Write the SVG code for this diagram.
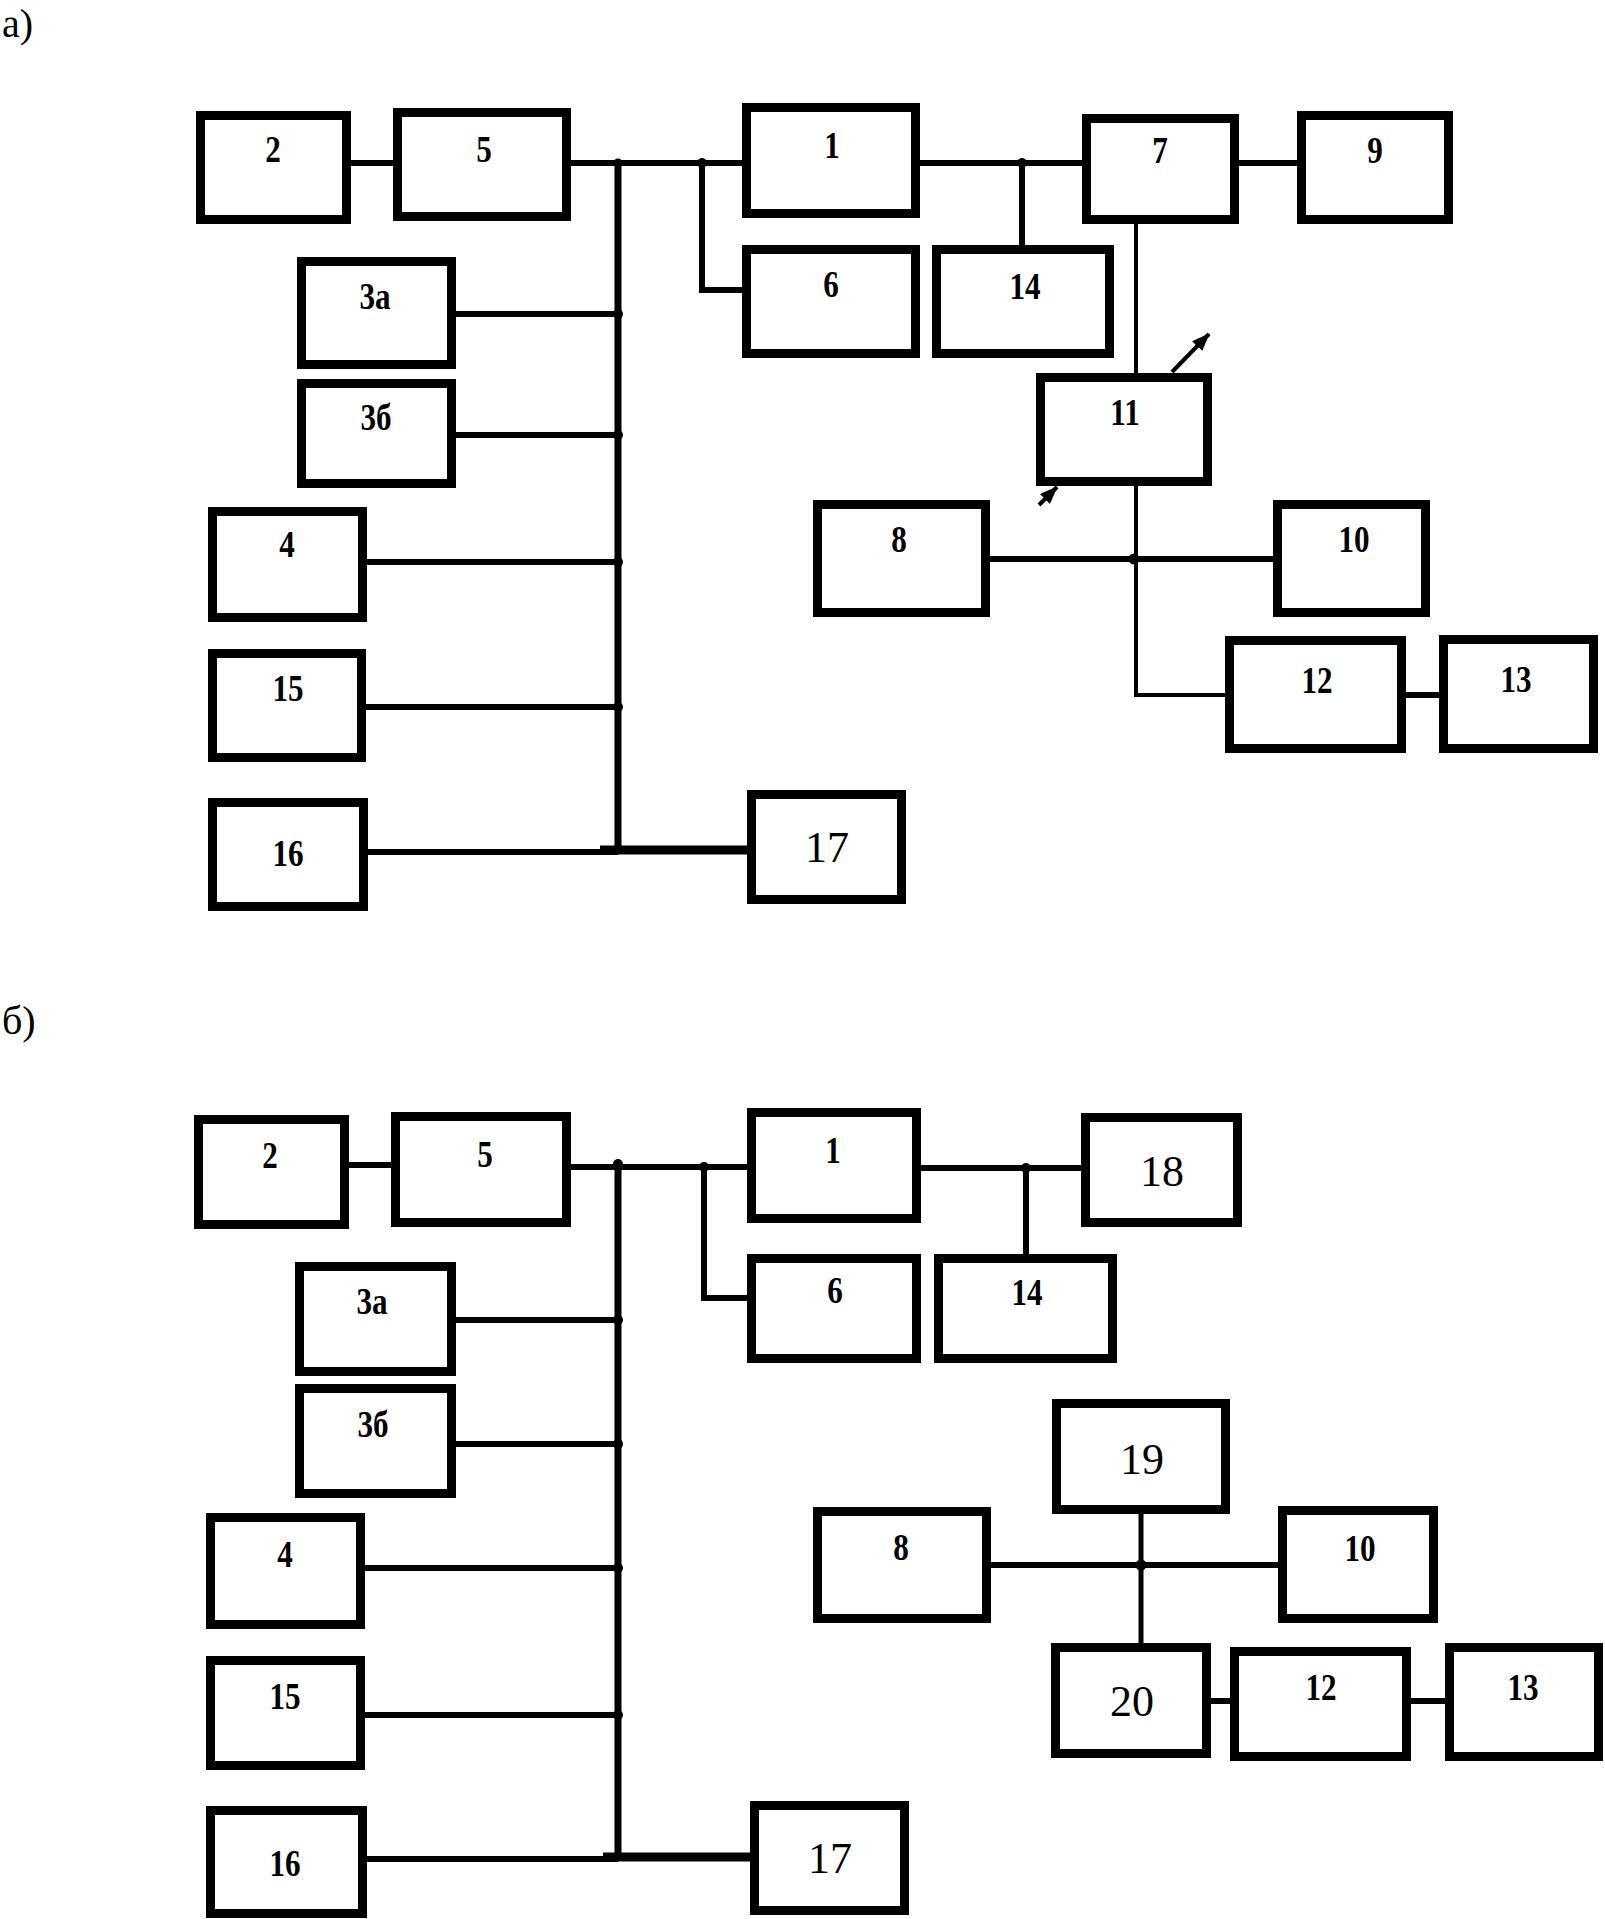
<svg xmlns="http://www.w3.org/2000/svg" width="1605" height="1919" viewBox="0 0 1605 1919">
<style>
.box{fill:#fff;stroke:#000;stroke-width:9}
.ln{fill:none;stroke:#000;stroke-width:6}
.thin{fill:none;stroke:#000;stroke-width:4}
.thick{fill:none;stroke:#000;stroke-width:9}
.dot{fill:#000}
.lb{font-family:"Liberation Serif","Times New Roman",serif;font-weight:bold;font-size:38px;text-anchor:middle}
.lr{font-family:"Liberation Serif","Times New Roman",serif;font-size:44px;text-anchor:middle}
.cap{font-family:"Liberation Serif","Times New Roman",serif;font-size:40px}
</style>
<defs>
<marker id="ah" markerUnits="userSpaceOnUse" markerWidth="18" markerHeight="14" refX="17" refY="7" orient="auto">
<path d="M0,0 L18,7 L0,14 z" fill="#000"/>
</marker>
</defs>
<rect width="1605" height="1919" fill="#fff"/>
<text class="cap" x="2" y="37">а)</text>
<text class="cap" x="2" y="1034">б)</text>

<g id="connectors">
<path class="ln" d="M351,163 H393"/>
<path class="ln" d="M571,163 H742"/>
<path class="ln" d="M618,163 V852" style="stroke-width:7"/>
<path class="ln" d="M702,163 V290 H742"/>
<path class="ln" d="M456,314 H618"/>
<path class="ln" d="M456,435 H618"/>
<path class="ln" d="M367,562 H618"/>
<path class="ln" d="M366,707 H618"/>
<path class="ln" d="M368,852 H618"/>
<path class="thick" d="M600,850 H747"/>
<path class="ln" d="M920,163 H1082"/>
<path class="ln" d="M1022,163 V245"/>
<path class="ln" d="M1239,163 H1297"/>
<path class="thin" d="M1136,224 V373"/>
<path class="thin" d="M1136,486 V695 H1225"/>
<path class="ln" d="M990,559 H1273"/>
<path class="ln" d="M1406,695 H1439"/>
<path class="thin" d="M1172,372 L1209,334" marker-end="url(#ah)"/>
<path class="thin" d="M1039,505 L1057,487" marker-end="url(#ah)"/>
<circle class="dot" cx="618" cy="163" r="4.5"/>
<circle class="dot" cx="702" cy="163" r="5"/>
<circle class="dot" cx="618" cy="314" r="5"/>
<circle class="dot" cx="618" cy="435" r="5"/>
<circle class="dot" cx="618" cy="562" r="5"/>
<circle class="dot" cx="618" cy="707" r="5"/>
<circle class="dot" cx="1022" cy="163" r="5"/>
<circle class="dot" cx="1134" cy="559" r="5.5"/>
<path class="ln" d="M349,1165 H391"/>
<path class="ln" d="M571,1167 H747"/>
<path class="ln" d="M618,1163 V1859" style="stroke-width:7"/>
<path class="ln" d="M704,1167 V1298 H747"/>
<path class="ln" d="M456,1320 H618"/>
<path class="ln" d="M456,1444 H618"/>
<path class="ln" d="M365,1568 H618"/>
<path class="ln" d="M365,1715 H618"/>
<path class="ln" d="M367,1859 H618"/>
<path class="thick" d="M603,1857 H750"/>
<path class="ln" d="M921,1168 H1081"/>
<path class="ln" d="M1026,1168 V1254"/>
<path class="ln" d="M1141,1514 V1643" style="stroke-width:5"/>
<path class="ln" d="M991,1565 H1278"/>
<path class="ln" d="M1211,1701 H1230"/>
<path class="ln" d="M1411,1701 H1445"/>
<circle class="dot" cx="618" cy="1164" r="5"/>
<circle class="dot" cx="704" cy="1167" r="5"/>
<circle class="dot" cx="618" cy="1320" r="5"/>
<circle class="dot" cx="618" cy="1444" r="5"/>
<circle class="dot" cx="618" cy="1568" r="5"/>
<circle class="dot" cx="618" cy="1715" r="5"/>
<circle class="dot" cx="1026" cy="1168" r="5"/>
<circle class="dot" cx="1141" cy="1565" r="5.5"/>
</g>

<g id="a2"><rect class="box" x="200.5" y="115.5" width="146" height="104"/><text class="lb" transform="translate(273,162) scale(0.82,1)">2</text></g>
<g id="a5"><rect class="box" x="397.5" y="112.5" width="169" height="104"/><text class="lb" transform="translate(484,162) scale(0.82,1)">5</text></g>
<g id="a1"><rect class="box" x="746.5" y="107.5" width="169" height="106"/><text class="lb" transform="translate(832,158) scale(0.82,1)">1</text></g>
<g id="a7"><rect class="box" x="1086.5" y="118.5" width="148" height="101"/><text class="lb" transform="translate(1160,163) scale(0.82,1)">7</text></g>
<g id="a9"><rect class="box" x="1301.5" y="115.5" width="147" height="104"/><text class="lb" transform="translate(1375,163) scale(0.82,1)">9</text></g>
<g id="a3a"><rect class="box" x="301.5" y="261.5" width="150" height="103"/><text class="lb" transform="translate(375,309) scale(0.82,1)">3а</text></g>
<g id="a3b"><rect class="box" x="301.5" y="383.5" width="150" height="100"/><text class="lb" transform="translate(376,430) scale(0.82,1)">3б</text></g>
<g id="a6"><rect class="box" x="746.5" y="249.5" width="169" height="104"/><text class="lb" transform="translate(831,297) scale(0.82,1)">6</text></g>
<g id="a14"><rect class="box" x="936.5" y="249.5" width="173" height="104"/><text class="lb" transform="translate(1025,299) scale(0.82,1)">14</text></g>
<g id="a11"><rect class="box" x="1040.5" y="377.5" width="167" height="104"/><text class="lb" transform="translate(1125,425) scale(0.82,1)">11</text></g>
<g id="a8"><rect class="box" x="817.5" y="504.5" width="168" height="108"/><text class="lb" transform="translate(899,552) scale(0.82,1)">8</text></g>
<g id="a10"><rect class="box" x="1277.5" y="504.5" width="148" height="108"/><text class="lb" transform="translate(1354,552) scale(0.82,1)">10</text></g>
<g id="a12"><rect class="box" x="1229.5" y="640.5" width="172" height="108"/><text class="lb" transform="translate(1317,693) scale(0.82,1)">12</text></g>
<g id="a13"><rect class="box" x="1443.5" y="639.5" width="150" height="109"/><text class="lb" transform="translate(1516,692) scale(0.82,1)">13</text></g>
<g id="a4"><rect class="box" x="212.5" y="511.5" width="150" height="106"/><text class="lb" transform="translate(287,557) scale(0.82,1)">4</text></g>
<g id="a15"><rect class="box" x="212.5" y="653.5" width="149" height="104"/><text class="lb" transform="translate(288,701) scale(0.82,1)">15</text></g>
<g id="a16"><rect class="box" x="212.5" y="802.5" width="151" height="104"/><text class="lb" transform="translate(288,866) scale(0.82,1)">16</text></g>
<g id="a17"><rect class="box" x="751.5" y="794.5" width="150" height="105"/><text class="lr" x="827" y="862">17</text></g>

<g id="b2"><rect class="box" x="198.5" y="1119.5" width="146" height="105"/><text class="lb" transform="translate(270,1168) scale(0.82,1)">2</text></g>
<g id="b5"><rect class="box" x="395.5" y="1116.5" width="171" height="106"/><text class="lb" transform="translate(485,1167) scale(0.82,1)">5</text></g>
<g id="b1"><rect class="box" x="751.5" y="1112.5" width="165" height="106"/><text class="lb" transform="translate(833,1163) scale(0.82,1)">1</text></g>
<g id="b18"><rect class="box" x="1085.5" y="1117.5" width="152" height="105"/><text class="lr" x="1162" y="1186">18</text></g>
<g id="b3a"><rect class="box" x="299.5" y="1266.5" width="152" height="105"/><text class="lb" transform="translate(372,1314) scale(0.82,1)">3а</text></g>
<g id="b3b"><rect class="box" x="299.5" y="1388.5" width="152" height="105"/><text class="lb" transform="translate(373,1437) scale(0.82,1)">3б</text></g>
<g id="b6"><rect class="box" x="751.5" y="1258.5" width="165" height="100"/><text class="lb" transform="translate(835,1303) scale(0.82,1)">6</text></g>
<g id="b14"><rect class="box" x="938.5" y="1258.5" width="174" height="100"/><text class="lb" transform="translate(1027,1305) scale(0.82,1)">14</text></g>
<g id="b19"><rect class="box" x="1056.5" y="1403.5" width="169" height="106"/><text class="lr" x="1142" y="1474">19</text></g>
<g id="b8"><rect class="box" x="817.5" y="1511.5" width="169" height="107"/><text class="lb" transform="translate(901,1560) scale(0.82,1)">8</text></g>
<g id="b10"><rect class="box" x="1282.5" y="1510.5" width="151" height="108"/><text class="lb" transform="translate(1360,1561) scale(0.82,1)">10</text></g>
<g id="b20"><rect class="box" x="1055.5" y="1647.5" width="151" height="106"/><text class="lr" x="1132" y="1716">20</text></g>
<g id="b12"><rect class="box" x="1234.5" y="1651.5" width="172" height="105"/><text class="lb" transform="translate(1321,1700) scale(0.82,1)">12</text></g>
<g id="b13"><rect class="box" x="1449.5" y="1647.5" width="149" height="109"/><text class="lb" transform="translate(1523,1700) scale(0.82,1)">13</text></g>
<g id="b4"><rect class="box" x="210.5" y="1517.5" width="150" height="107"/><text class="lb" transform="translate(285,1567) scale(0.82,1)">4</text></g>
<g id="b15"><rect class="box" x="210.5" y="1660.5" width="150" height="105"/><text class="lb" transform="translate(285,1709) scale(0.82,1)">15</text></g>
<g id="b16"><rect class="box" x="210.5" y="1810.5" width="152" height="103"/><text class="lb" transform="translate(285,1876) scale(0.82,1)">16</text></g>
<g id="b17"><rect class="box" x="754.5" y="1805.5" width="150" height="105"/><text class="lr" x="830" y="1873">17</text></g>
</svg>
